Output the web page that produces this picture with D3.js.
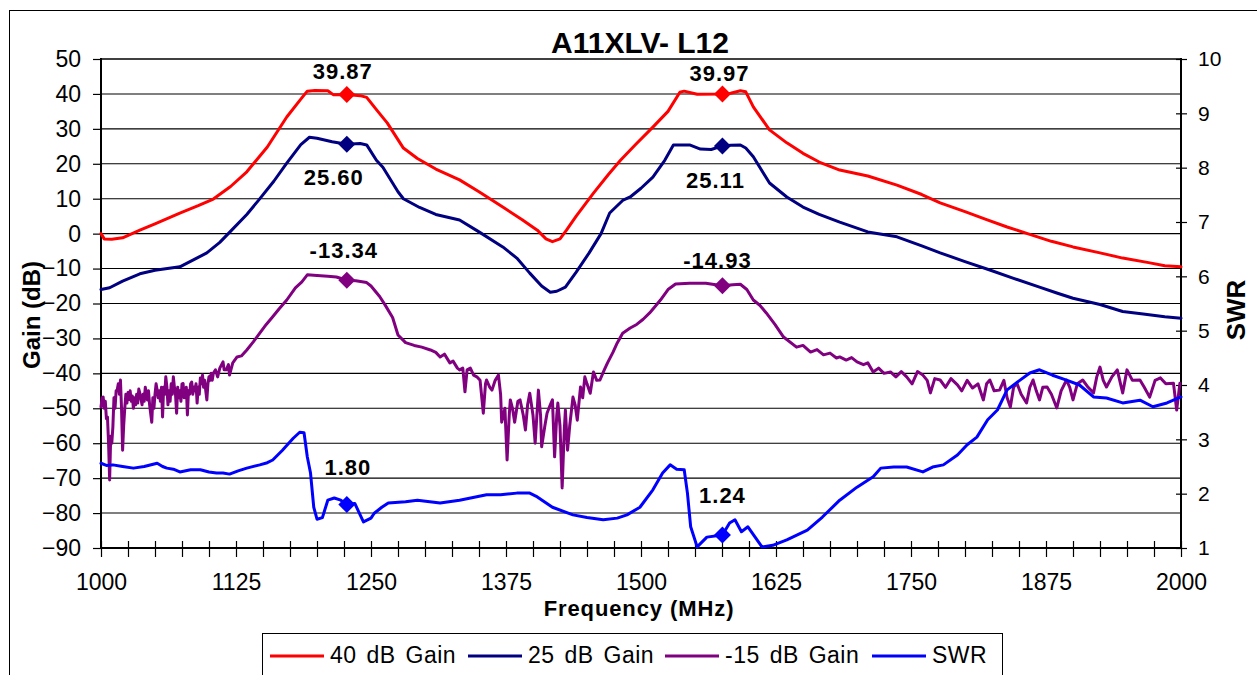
<!DOCTYPE html>
<html><head><meta charset="utf-8">
<script src="https://cdn.jsdelivr.net/npm/d3@7"></script>
<style>
html,body{margin:0;padding:0;background:#fff;}
svg{display:block;font-family:"Liberation Sans",Arial,sans-serif;}
</style></head>
<body>
<svg id="chart" width="1257" height="675"></svg>
<script>
// ---------- DATA ----------
const chartTitle = "A11XLV- L12";
const xTickLabels = [1000, 1125, 1250, 1375, 1500, 1625, 1750, 1875, 2000];
const yTickLabels = [-90, -80, -70, -60, -50, -40, -30, -20, -10, 0, 10, 20, 30, 40, 50];
const y2TickLabels = [1, 2, 3, 4, 5, 6, 7, 8, 9, 10];
const seriesNames = ["40 dB Gain", "25 dB Gain", "-15 dB Gain", "SWR"];
const markerFreq = [1227.6, 1575.42];
const marker40 = [39.87, 39.97];
const marker25 = [25.60, 25.11];
const markerM15 = [-13.34, -14.93];
const markerSWR = [1.80, 1.24];

const gain40 = [
[1000,0],[1003,-1.5],[1010,-1.6],[1020,-1.2],[1036,1.0],[1050,2.8],[1073,5.9],[1090,8.0],[1104,9.9],
[1120,13.5],[1135,17.7],[1154,24.8],[1172,33.4],[1185,38.5],[1191,40.8],[1198,41.0],[1210,40.9],
[1215,39.8],[1227.6,39.87],[1240,39.5],[1246,39.0],[1255,35.5],[1265,31.7],[1280,24.5],[1293,21.5],
[1310,18.5],[1332,15.4],[1350,12],[1372,7.6],[1390,4],[1404,1],[1412,-1.5],[1418,-2.3],[1425,-1.5],
[1431,1],[1440,5],[1456,11.6],[1470,17],[1481,21],[1495,25.5],[1511,30.5],[1525,35],[1536,40.5],
[1540,40.8],[1552,39.9],[1575.42,39.97],[1583,40.2],[1592,40.9],[1597,40.6],[1604,36.3],[1619,29.7],
[1635,26],[1650,23],[1665,20.5],[1684,18.2],[1710,16.5],[1737,13.9],[1760,11.2],[1777,8.8],[1800,6.3],
[1820,4.0],[1839,1.9],[1860,-0.2],[1880,-2.2],[1900,-3.8],[1925,-5.5],[1946,-7],[1970,-8.3],[1985,-9.2],[2000,-9.5]
];
const gain25 = [
[1000,-16],[1008,-15.5],[1020,-13.6],[1036,-11.5],[1050,-10.5],[1073,-9.5],[1090,-6.8],[1098,-5.5],
[1110,-2.5],[1121,1],[1135,5.5],[1146,9.6],[1160,15],[1172,20.2],[1185,25.5],[1193,27.6],[1200,27.3],
[1214,26.3],[1227.6,25.6],[1240,25.8],[1246,25.4],[1255,21],[1261,19],[1275,12],[1280,10],[1295,7.5],
[1310,5.5],[1332,3.9],[1350,0.5],[1372,-3.8],[1385,-7],[1397,-11.3],[1408,-15],[1416,-16.8],[1422,-16.5],
[1430,-15.3],[1440,-11],[1452,-5.5],[1463,0],[1471,5.9],[1483,9.5],[1490,10.5],[1500,13],[1511,16.2],
[1522,21],[1530,25.4],[1545,25.4],[1555,24.2],[1565,24.1],[1575.42,25.11],[1583,25.3],[1592,25.4],
[1597,24.5],[1604,22],[1619,14.5],[1635,10.5],[1650,7.6],[1665,5.5],[1684,3.3],[1710,0.5],[1737,-0.9],
[1760,-3.5],[1777,-5.5],[1800,-8],[1823,-10.4],[1845,-12.8],[1869,-15.3],[1885,-17],[1900,-18.5],
[1925,-20.3],[1946,-22.3],[1965,-23],[1985,-23.8],[2000,-24.2]
];
const gainM15 = [
[1000,-49.6],[1001,-47],[1002,-46.8],[1003,-50],[1004,-48],[1005,-53],[1006,-52.5],[1007,-60],[1008,-70.5],
[1009,-58],[1010,-60],[1011,-55.3],[1012,-47],[1013,-50],[1014,-45],[1015,-44.8],[1016,-43],[1017,-46],
[1018,-41.9],[1019,-50],[1020,-62],[1021,-55],[1022,-50],[1023,-46],[1024,-48.5],[1025,-45.5],[1026,-47.5],
[1027,-45],[1028,-48],[1029,-46.5],[1030,-50],[1031,-47],[1032,-49],[1033,-46],[1034,-48.5],[1035,-44.5],
[1036,-45.7],[1038,-49],[1039,-46],[1040,-48],[1041,-44],[1043,-47.6],[1044,-45],[1045,-49],[1047,-54],
[1048,-47],[1049,-50],[1050,-46],[1051,-43],[1052,-44.8],[1053,-47],[1054,-45],[1055,-48],[1056,-44],
[1057,-52.5],[1058,-44],[1059,-46],[1060,-41],[1061,-43.9],[1062,-49],[1063,-45],[1064,-48],[1065,-43],
[1066,-46],[1067,-41],[1068,-44],[1069,-46],[1070,-51.4],[1071,-44],[1072,-47],[1073,-45],[1074,-48],
[1075,-43],[1076,-42.9],[1077,-47],[1078,-46],[1079,-44],[1080,-51.9],[1081,-45],[1082,-46],[1083,-43],
[1084,-42.5],[1085,-46],[1086,-44],[1087,-45],[1088,-43],[1089,-48.5],[1090,-44],[1091,-46],[1092,-41.3],
[1093,-43],[1094,-40.5],[1095,-44],[1096,-42],[1097,-45],[1098,-47.6],[1099,-43],[1100,-41],[1101,-42],
[1102,-40],[1103,-42],[1104,-40],[1106,-39],[1108,-41],[1110,-38.5],[1113,-36.7],[1114,-39],[1116,-39],
[1118,-37.5],[1119,-40.5],[1122,-37],[1126,-35.3],[1130,-35],[1135,-33.3],[1141,-31],[1147,-28.5],
[1153,-26],[1159,-23.8],[1165,-21.5],[1172,-19],[1180,-15.5],[1186,-13.8],[1191,-11.8],[1200,-12],[1210,-12.2],
[1218,-12.4],[1227.6,-13.34],[1236,-13.5],[1246,-14],[1250,-15],[1258,-18],[1263,-20.4],[1270,-24],[1275,-29],
[1282,-31.2],[1290,-32],[1297,-32.5],[1305,-33.3],[1310,-34],[1314,-35.3],[1318,-34.5],[1321,-36],[1323,-37],
[1326,-36.5],[1328,-37.5],[1330,-38.5],[1332,-39],
[1335,-38.5],[1337,-45.3],[1339,-39],[1342,-38.5],[1345,-40.5],[1348,-41],[1351,-42],[1354,-51.4],[1356,-43],
[1357,-41.9],[1360,-44],[1362,-44.8],[1365,-42],[1368,-40.5],[1370,-46],[1371,-54],[1374,-50],[1376,-64.8],
[1378,-52],[1379,-47.6],[1381,-50],[1383,-54],[1386,-48],[1388,-47.6],[1391,-52],[1393,-56.2],[1395,-49],
[1397,-45.7],[1400,-52],[1402,-60],[1404,-50],[1405,-44.8],[1407,-52],[1408,-61],[1411,-55],[1413,-51.4],
[1416,-49],[1418,-47.6],[1420,-63.9],[1422,-52],[1423,-48.5],[1425,-55],[1427,-72.8],[1429,-56],[1430,-50.5],
[1432,-62],[1434,-55],[1437,-46.8],[1439,-49],[1441,-53.4],[1443,-47],[1444,-43.9],[1446,-47],[1448,-41],
[1450,-43],[1453,-45.7],[1456,-39.6],[1459,-42],[1462,-41.9],[1466,-39],[1469,-37],[1474,-34],[1478,-31.3],
[1483,-28.5],[1490,-27],[1496,-26],[1502,-24.5],[1508,-22.7],[1514,-20.5],[1518,-19],[1525,-16],[1532,-14.4],
[1545,-14.2],[1560,-14.2],[1575.42,-14.93],[1585,-14.6],[1592,-14.5],[1598,-16],[1604,-19],[1610,-20.5],
[1616,-22.7],[1624,-26],[1632,-29.6],[1644,-32.5],[1650,-32],[1657,-33.9],[1663,-33.2],[1669,-34.7],[1675,-34.2],
[1681,-35.6],[1684,-35.3],[1690,-36.2],[1695,-35.5],[1700,-36.7],[1706,-37.5],[1710,-37],[1715,-39.6],[1720,-38.5],
[1725,-40],[1731,-39.6],[1736,-41],[1741,-39.5],[1746,-41],[1751,-43],[1756,-39.5],[1761,-40.5],[1765,-42],
[1768,-45.6],[1772,-41.5],[1777,-41.9],[1782,-44],[1787,-41.5],[1793,-43.3],[1797,-45],[1802,-42],[1807,-44.2],
[1812,-43],[1817,-47.6],[1820,-43],[1823,-41.9],[1827,-45],[1832,-44.8],[1836,-42],[1839,-47],[1842,-49.6],
[1845,-44],[1848,-42.8],[1852,-46],[1857,-48.5],[1860,-44],[1863,-41.9],[1866,-45],[1869,-47.6],[1872,-44],
[1876,-43.9],[1880,-46],[1885,-49.9],[1889,-45],[1894,-41.9],[1897,-44],[1900,-47.6],[1904,-43],[1909,-41.9],
[1914,-44],[1919,-45.6],[1922,-41],[1925,-38.2],[1928,-42],[1931,-43.9],[1936,-41],[1941,-39],[1944,-43],
[1946,-45.6],[1950,-39],[1955,-42],[1962,-41.9],[1966,-44],[1971,-46.8],[1976,-42],[1981,-41.3],[1986,-43],
[1993,-42.8],[1996,-50.5],[1999,-42.8]
];
const swr = [
[1000,2.56],[1005,2.52],[1011,2.53],[1020,2.5],[1030,2.47],[1040,2.5],[1052,2.56],[1057,2.5],[1061,2.47],
[1067,2.45],[1073,2.4],[1083,2.44],[1092,2.44],[1100,2.4],[1107,2.38],[1113,2.38],[1119,2.36],[1127,2.42],
[1135,2.47],[1147,2.53],[1154,2.57],[1159,2.62],[1168,2.8],[1178,3.02],[1184,3.13],[1188,3.12],[1191,2.68],
[1194,2.38],[1197,1.75],[1200,1.53],[1205,1.56],[1210,1.88],[1216,1.92],[1222,1.88],[1227.6,1.80],[1235,1.82],
[1243,1.48],[1250,1.55],[1253,1.64],[1260,1.75],[1266,1.83],[1282,1.85],[1293,1.88],[1314,1.83],[1332,1.88],
[1357,1.98],[1370,1.98],[1385,2.01],[1397,2.01],[1404,1.94],[1418,1.75],[1437,1.61],[1450,1.56],[1465,1.52],
[1478,1.55],[1487,1.61],[1499,1.75],[1511,2.07],[1520,2.38],[1527,2.53],[1533,2.45],[1540,2.44],[1543,2.01],
[1546,1.39],[1552,1.02],[1561,1.2],[1575.42,1.24],[1582,1.46],[1587,1.52],[1593,1.3],[1599,1.39],[1612,1.02],
[1622,1.05],[1635,1.15],[1654,1.33],[1668,1.57],[1684,1.88],[1700,2.12],[1715,2.31],[1722,2.47],[1734,2.49],
[1746,2.49],[1761,2.4],[1770,2.49],[1780,2.53],[1793,2.71],[1802,2.9],[1811,3.04],[1821,3.36],[1830,3.54],
[1839,3.91],[1851,4.09],[1860,4.22],[1869,4.28],[1881,4.18],[1894,4.09],[1906,4.0],[1919,3.78],[1931,3.76],
[1946,3.67],[1962,3.72],[1974,3.6],[1987,3.67],[2000,3.78]
];

// ---------- LAYOUT ----------
const svg = d3.select("#chart");
const L = 101, R = 1181, T = 59, B = 548;
const x = d3.scaleLinear().domain([1000, 2000]).range([L, R]);
const y = d3.scaleLinear().domain([-90, 50]).range([B, T]);
const y2 = d3.scaleLinear().domain([1, 10]).range([B, T]);
const FONT = '"Liberation Sans", Arial, sans-serif';

// outer border
svg.append("rect").attr("x", 9.5).attr("y", 10.5).attr("width", 1300).attr("height", 700)
  .attr("fill", "none").attr("stroke", "#000").attr("stroke-width", 1);

// gridlines
svg.append("g").selectAll("line").data(yTickLabels.filter(v => v > -90)).join("line")
  .attr("x1", L).attr("x2", R)
  .attr("y1", d => y(d)).attr("y2", d => y(d))
  .attr("stroke", "#000").attr("stroke-width", d => d === 50 ? 1.6 : 1.1);

// left axis
const gL = svg.append("g").attr("transform", `translate(${L},0)`)
  .call(d3.axisLeft(y).tickValues(yTickLabels).tickSize(8).tickPadding(12).tickFormat(d3.format("d")));
gL.select(".domain").remove();
gL.selectAll("text").attr("font-size", 23).attr("font-family", FONT).attr("fill", "#000");
gL.selectAll("line").attr("stroke", "#000").attr("stroke-width", 1.2);

// right axis
const gR = svg.append("g").attr("transform", `translate(${R},0)`)
  .call(d3.axisRight(y2).tickValues(y2TickLabels).tickSize(6).tickPadding(11).tickFormat(d3.format("d")));
gR.select(".domain").remove();
gR.selectAll(".tick line").attr("x1", -5).attr("x2", 6).attr("stroke", "#000").attr("stroke-width", 1.2);
gR.selectAll("text").attr("font-size", 21).attr("font-family", FONT).attr("fill", "#000");

// bottom axis
const minorTicks = d3.range(1000, 2001, 25);
const gB = svg.append("g").attr("transform", `translate(0,${B})`)
  .call(d3.axisBottom(x).tickValues(minorTicks).tickSize(9).tickPadding(17)
    .tickFormat(d => xTickLabels.includes(d) ? String(d) : ""));
gB.select(".domain").remove();
gB.selectAll(".tick line").attr("y1", -7).attr("stroke", "#000").attr("stroke-width", 1.2);
gB.selectAll("text").attr("font-size", 23).attr("font-family", FONT).attr("fill", "#000");

// axis lines
svg.append("line").attr("x1", L).attr("x2", L).attr("y1", T - 1).attr("y2", B + 1).attr("stroke", "#000").attr("stroke-width", 2);
svg.append("line").attr("x1", R).attr("x2", R).attr("y1", T - 1).attr("y2", B + 1).attr("stroke", "#000").attr("stroke-width", 2);
svg.append("line").attr("x1", L - 1).attr("x2", R + 1).attr("y1", B).attr("y2", B).attr("stroke", "#000").attr("stroke-width", 2.2);

// series
const clipId = "plotclip";
svg.append("clipPath").attr("id", clipId).append("rect")
  .attr("x", L - 2).attr("y", T - 4).attr("width", R - L + 4).attr("height", B - T + 6);
const plot = svg.append("g").attr("clip-path", `url(#${clipId})`);

const lineG = d3.line().x(d => x(d[0])).y(d => y(d[1]));
const lineS = d3.line().x(d => x(d[0])).y(d => y2(d[1]));
const colors = ["#FF0000", "#000080", "#800080", "#0000FF"];

const series = [
  {data: gain40, line: lineG, color: colors[0]},
  {data: gain25, line: lineG, color: colors[1]},
  {data: gainM15, line: lineG, color: colors[2]},
  {data: swr, line: lineS, color: colors[3]}
];
series.forEach(s => {
  plot.append("path").datum(s.data).attr("d", s.line)
    .attr("fill", "none").attr("stroke", s.color).attr("stroke-width", 3)
    .attr("stroke-linejoin", "round").attr("stroke-linecap", "round");
});

// markers + labels
const diamond = "M0,-8.5L8.5,0L0,8.5L-8.5,0Z";
const markerSets = [
  {vals: marker40, sc: y, color: colors[0], off: [[-4, -15], [-3, -13]]},
  {vals: marker25, sc: y, color: colors[1], off: [[-13, 41], [-7, 42]]},
  {vals: markerM15, sc: y, color: colors[2], off: [[-3, -22], [-5, -18]]},
  {vals: markerSWR, sc: y2, color: colors[3], off: [[1, -30], [0, -32]]}
];
markerSets.forEach(m => {
  m.vals.forEach((v, i) => {
    const px = x(markerFreq[i]), py = m.sc(v);
    svg.append("path").attr("d", diamond).attr("transform", `translate(${px},${py})`).attr("fill", m.color);
    svg.append("text").attr("x", px + m.off[i][0]).attr("y", py + m.off[i][1])
      .attr("text-anchor", "middle").attr("font-size", 22).attr("font-weight", "bold")
      .attr("letter-spacing", 1).attr("font-family", FONT).text(v.toFixed(2));
  });
});

// titles
svg.append("text").attr("x", 640).attr("y", 53).attr("text-anchor", "middle")
  .attr("font-size", 30).attr("font-weight", "bold").attr("font-family", FONT).text(chartTitle);
svg.append("text").attr("x", 639).attr("y", 616).attr("text-anchor", "middle")
  .attr("font-size", 22).attr("font-weight", "bold").attr("letter-spacing", 0.9).attr("font-family", FONT).text("Frequency (MHz)");
svg.append("text").attr("transform", "translate(40,315) rotate(-90)").attr("text-anchor", "middle")
  .attr("font-size", 24).attr("font-weight", "bold").attr("font-family", FONT).text("Gain (dB)");
svg.append("text").attr("transform", "translate(1245,310) rotate(-90)").attr("text-anchor", "middle")
  .attr("font-size", 26).attr("font-weight", "bold").attr("font-family", FONT).text("SWR");

// legend
const lg = svg.append("g");
lg.append("rect").attr("x", 262.5).attr("y", 633.5).attr("width", 740).attr("height", 80)
  .attr("fill", "#fff").attr("stroke", "#000").attr("stroke-width", 1);
const legX = [270, 468, 665, 872];
seriesNames.forEach((n, i) => {
  lg.append("line").attr("x1", legX[i]).attr("x2", legX[i] + 54).attr("y1", 656).attr("y2", 656)
    .attr("stroke", colors[i]).attr("stroke-width", 3);
  lg.append("text").attr("x", legX[i] + 60).attr("y", 663).attr("font-size", 23)
    .attr("word-spacing", 3).attr("letter-spacing", 0.5).attr("font-family", FONT).text(n);
});
</script>
</body></html>
